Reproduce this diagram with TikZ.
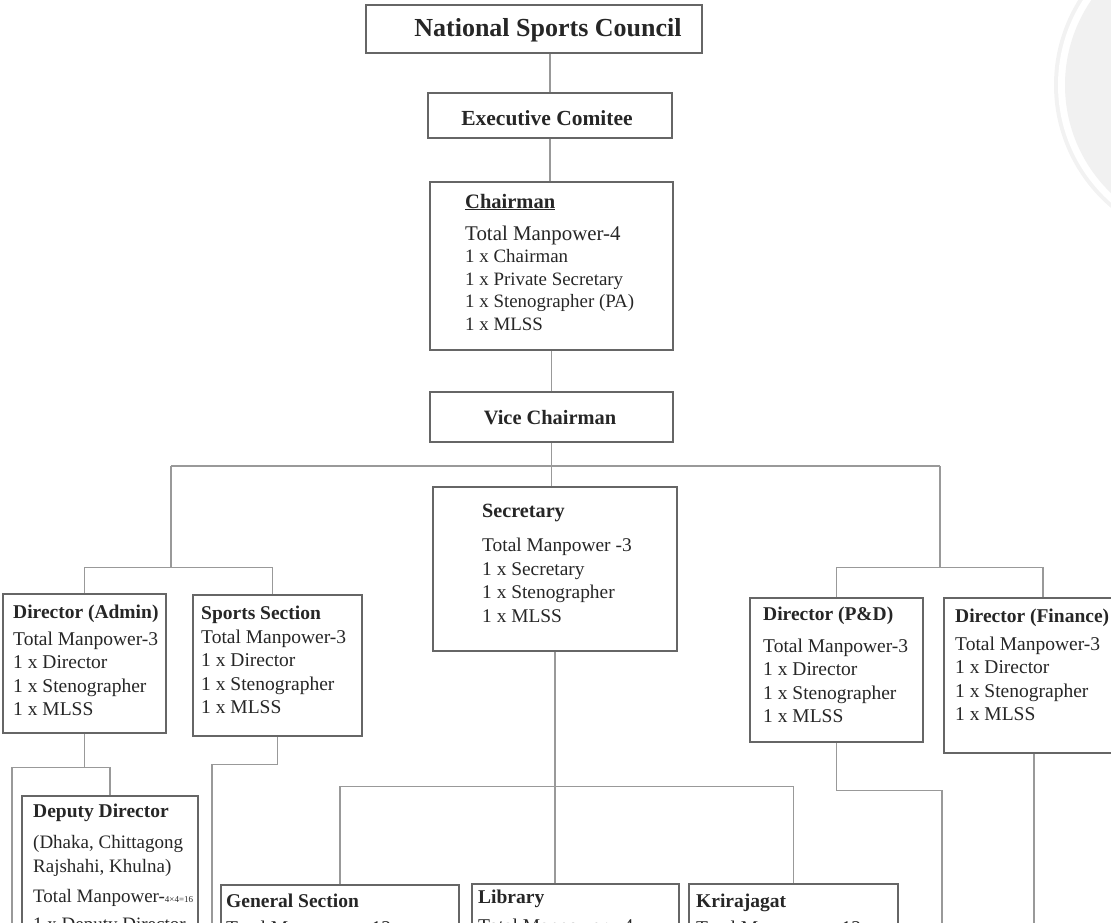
\documentclass[tikz,border=0pt]{standalone}
\usepackage{fontspec}
\setmainfont{Liberation Serif}
\usetikzlibrary{positioning}

\tikzset{
  box/.style={draw=black!60, line width=1.5pt, rectangle, inner sep=0pt},
  link/.style={draw=black!40, line width=1.4pt},
  head/.style={font=\fontsize{19.5}{23.5}\selectfont\bfseries, inner sep=0pt, anchor=base west, text=black!85},
  body/.style={font=\fontsize{19.5}{23.5}\selectfont, align=left, inner sep=0pt, anchor=north west, text=black!85},
  title/.style={inner sep=0pt, text=black!85},
}

\begin{document}
\begin{tikzpicture}[x=1pt,y=-1pt]
\useasboundingbox (0,0) rectangle (1111,922);
\clip (0,0) rectangle (1111,922);
%
% Ring in the corner
\fill[gray!10] (1215,85) circle (161pt);
\fill[white]   (1215,85) circle (157pt);
\fill[gray!11] (1215,85) circle (150pt);
%
% Council and committee
\node[box, minimum width=336pt, minimum height=48pt] (nsc) at (534,29) {};
\node[title, font=\fontsize{26}{30}\selectfont\bfseries] (nsc-t) at (548,30) {National Sports Council};
\node[box, minimum width=244pt, minimum height=45pt] (exec) at (550,115.5) {};
\node[title, font=\fontsize{21.5}{25}\selectfont\bfseries] (exec-t) at (547,118) {Executive Comitee};
%
% Chairman
\node[box, minimum width=243pt, minimum height=168pt] (chair) at (551.5,266) {};
\node[head, font=\fontsize{20.5}{24}\selectfont\bfseries] (chair-h) at (465,208) {\underline{Chairman}};
\node[body, font=\fontsize{18.9}{22.5}\selectfont] (chair-b) at (465,225.7)
  {{\fontsize{20.9}{22.5}\selectfont Total Manpower-4}\\
   1 x Chairman\\1 x Private Secretary\\1 x Stenographer (PA)\\1 x MLSS};
%
% Vice chairman
\node[box, minimum width=243pt, minimum height=50pt] (vice) at (551.5,417) {};
\node[title, font=\fontsize{20.4}{24}\selectfont\bfseries] (vice-t) at (550,418) {Vice Chairman};
%
% Secretary
\node[box, minimum width=244pt, minimum height=164pt] (secr) at (555,569) {};
\node[head, font=\fontsize{20.2}{24}\selectfont\bfseries] (secr-h) at (482,517) {Secretary};
\node[body, font=\fontsize{19.4}{23.7}\selectfont] (secr-b) at (482,537.8)
  {Total Manpower -3\\1 x Secretary\\1 x Stenographer\\1 x MLSS};
%
% Directors
\node[box, minimum width=163pt, minimum height=139pt] (admin) at (84.5,663.5) {};
\node[head] (admin-h) at (13,618) {Director (Admin)};
\node[body] (admin-b) at (13,631.7)
  {Total Manpower-3\\1 x Director\\1 x Stenographer\\1 x MLSS};
%
\node[box, minimum width=169pt, minimum height=141pt] (sports) at (277.5,665.5) {};
\node[head] (sports-h) at (201,619) {Sports Section};
\node[body] (sports-b) at (201,629.7)
  {Total Manpower-3\\1 x Director\\1 x Stenographer\\1 x MLSS};
%
\node[box, minimum width=173pt, minimum height=144pt] (pd) at (836.5,670) {};
\node[head] (pd-h) at (763,620) {Director (P\&D)};
\node[body] (pd-b) at (763,638.7)
  {Total Manpower-3\\1 x Director\\1 x Stenographer\\1 x MLSS};
%
\node[box, minimum width=186pt, minimum height=155pt] (fin) at (1037,675.5) {};
\node[head] (fin-h) at (955,622) {Director (Finance)};
\node[body] (fin-b) at (955,636.7)
  {Total Manpower-3\\1 x Director\\1 x Stenographer\\1 x MLSS};
%
% Lower row (runs off the page)
\node[box, minimum width=176pt, minimum height=204pt] (deputy) at (110,898) {};
\node[head] (deputy-h) at (33,817) {Deputy Director};
\node[body, font=\fontsize{19}{24}\selectfont] (deputy-b) at (33,835.1)
  {(Dhaka, Chittagong\\Rajshahi, Khulna)\\[6pt]
   Total Manpower-{\fontsize{9}{10}\selectfont 4×4=16}\\[4pt]1 x Deputy Director};
%
\node[box, minimum width=238pt, minimum height=115pt] (general) at (340,942.5) {};
\node[head] (general-h) at (226,907) {General Section};
\node[head, font=\fontsize{19.5}{23.5}\selectfont] (general-b) at (226,934) {Total Manpower - 12};
%
\node[box, minimum width=207pt, minimum height=116pt] (library) at (575.5,942) {};
\node[head] (library-h) at (478,903) {Library};
\node[head, font=\fontsize{19.5}{23.5}\selectfont] (library-b) at (478,932) {Total Manpower - 4};
%
\node[box, minimum width=209pt, minimum height=116pt] (krira) at (793.5,942) {};
\node[head] (krira-h) at (696,907) {Krirajagat};
\node[head, font=\fontsize{19.5}{23.5}\selectfont] (krira-b) at (696,934) {Total Manpower - 12};
%
% Main line
\draw[link] (exec.north |- nsc.south) -- (exec.north);
\draw[link] (exec.south) -- (exec.south |- chair.north);
\draw[link] (chair.south) -- (chair.south |- vice.north);
\draw[link] (vice.south) -- (vice.south |- secr.north);
%
% Bus to the directors
\coordinate (busL) at (171,466);
\coordinate (busR) at (940,466);
\draw[link] (busL) -- (busR);
\draw[link] (admin.north) -- ++(0,-26) coordinate (legL) -| ([xshift=-5pt]sports.north);
\draw[link] (busL) -- (busL |- legL);
\draw[link] (pd.north) -- ++(0,-30) coordinate (legR) -| ([xshift=6pt]fin.north);
\draw[link] (busR) -- (busR |- legR);
%
% Feeds below the directors
\coordinate (offL) at (12,930);
\coordinate (offS) at (212,930);
\coordinate (offP) at (942,930);
\coordinate (offF) at (1034,930);
\draw[link] (admin.south) -- ++(0,34) coordinate (admJ);
\draw[link] (offL) |- (deputy.north |- admJ) -- (deputy.north);
\draw[link] (sports.south) -- ++(0,28) -| (offS);
\draw[link] (pd.south) -- ++(0,48) -| (offP);
\draw[link] (fin.south -| offF) -- (offF);
%
% Sections under the secretary
\draw[link] (secr.south) -- ++(0,135) coordinate (secJ);
\draw[link] (general.north) |- (secJ) -| (krira.north);
\draw[link] (secJ) -- (secJ |- library.north);
%
\end{tikzpicture}
\end{document}
